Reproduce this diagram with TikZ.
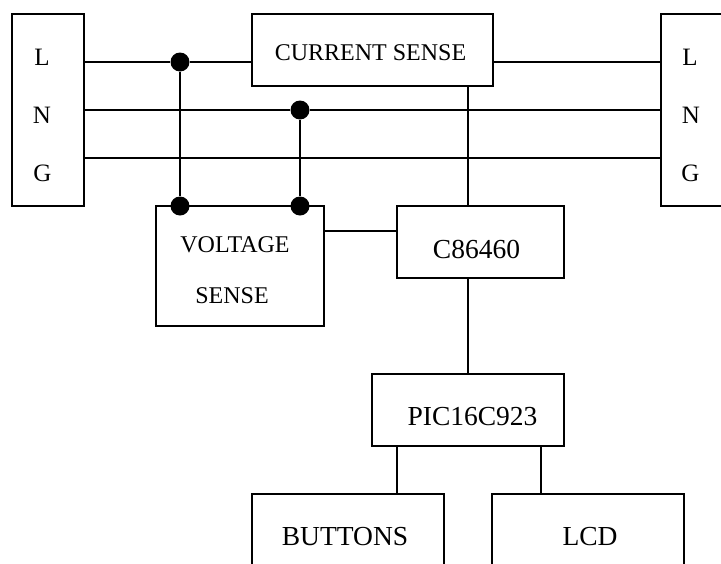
\documentclass[tikz,border=0pt]{standalone}
\usepackage{fontspec}
\setmainfont{Liberation Serif}
\begin{document}
\begin{tikzpicture}[x=1pt,y=-1pt,line width=1.6pt,
  blk/.style={draw,rectangle,inner sep=0pt},
  dot/.style={circle,fill,inner sep=0pt,minimum size=19pt},
  txt/.style={anchor=base,inner sep=0pt,font=\fontsize{27.5}{30}\selectfont},
  stxt/.style={anchor=base,inner sep=0pt,font=\fontsize{24}{28}\selectfont},
  ltxt/.style={anchor=base,inner sep=0pt,font=\fontsize{25}{28}\selectfont}]
\useasboundingbox (0,0) rectangle (721,563);
\clip (0,0) rectangle (721,563);
% boxes
\node[blk,minimum width=72pt,minimum height=192pt] (lft) at (48,110) {};
\node[blk,minimum width=72pt,minimum height=192pt] (rgt) at (697,110) {};
\node[blk,minimum width=241pt,minimum height=72pt] (cur) at (372.5,50) {};
\node[blk,minimum width=168pt,minimum height=120pt] (vol) at (240,266) {};
\node[blk,minimum width=167pt,minimum height=72pt] (cpu) at (480.5,242) {};
\node[blk,minimum width=192pt,minimum height=72pt] (pic) at (468,410) {};
\node[blk,minimum width=192pt,minimum height=72pt] (btn) at (348,530) {};
\node[blk,minimum width=192pt,minimum height=72pt] (lcd) at (588,530) {};
% texts
\node[ltxt] (tl1) at (42,65) {L};
\node[ltxt] (tn1) at (42,123) {N};
\node[ltxt] (tg1) at (42.5,181) {G};
\node[ltxt] (tl2) at (690,65) {L};
\node[ltxt] (tn2) at (691,123) {N};
\node[ltxt] (tg2) at (690.5,181) {G};
\node[stxt] (tcur) at (370.5,60) {CURRENT SENSE};
\node[stxt] (tvol1) at (235,252) {VOLTAGE};
\node[stxt] (tvol2) at (232,303) {SENSE};
\node[txt] (tcpu) at (476.5,258) {C86460};
\node[txt] (tpic) at (472.5,425) {PIC16C923};
\node[txt] (tbtn) at (345,545) {BUTTONS};
\node[txt] (tlcd) at (590,545) {LCD};
% junction dots
\node[dot] (d1) at (180,62) {};
\node[dot] (d2) at (300,110) {};
\node[dot] (d3) at (180,206) {};
\node[dot] (d4) at (300,206) {};
\coordinate (xa) at (468,0);
\coordinate (xb) at (397,0);
\coordinate (xc) at (541,0);
\coordinate (yv) at (0,231);
% connectors
\draw (lft.east |- d1) -- (d1) -- (cur.west |- d1);
\draw (cur.east |- d1) -- (rgt.west |- d1);
\draw (lft.east |- d2) -- (d2) -- (rgt.west |- d2);
\draw (lft.east |- 0,158) -- (rgt.west |- 0,158);
\draw (d1) -- (d3);
\draw (d2) -- (d4);
\draw (cur.south -| xa) -- (cpu.north -| xa);
\draw (vol.east |- yv) -- (cpu.west |- yv);
\draw (cpu.south -| xa) -- (pic.north -| xa);
\draw (pic.south -| xb) -- (btn.north -| xb);
\draw (pic.south -| xc) -- (lcd.north -| xc);
\end{tikzpicture}
\end{document}
